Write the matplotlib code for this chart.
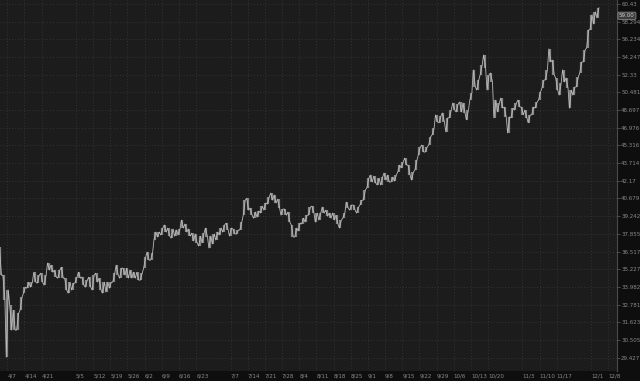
import numpy as np
import pandas as pd
import matplotlib
matplotlib.use("Agg")
import matplotlib.pyplot as plt
from matplotlib.ticker import FixedLocator, NullLocator

# daily ranges, 2025-04-03 .. 2025-12-03 (weekdays)
dates = pd.bdate_range("2025-04-03", "2025-12-03")

highs = [36.85, 34.80, 33.76, 32.73, 32.40, 32.20, 33.28, 33.96, 34.31, 34.31,
         35.01, 34.80, 34.94, 34.80, 35.67, 35.52, 35.16, 35.16, 35.37, 34.59,
         34.31, 34.24, 34.66, 35.01, 34.66, 34.45, 34.66, 34.80, 34.94, 34.59,
         34.31, 34.31, 34.31, 34.94, 35.52, 35.30, 35.30, 35.30, 35.16, 35.01,
         35.01, 34.94, 36.10, 36.47, 36.40, 37.99, 37.99, 38.30, 38.54, 38.30,
         38.23, 38.15, 38.23, 38.93, 38.62, 38.23, 37.91, 37.84, 37.68, 37.91,
         38.30, 37.68, 37.84, 37.99, 38.30, 38.54, 38.69, 38.30, 38.23, 38.15,
         38.77, 40.54, 40.70, 39.89, 39.57, 39.65, 40.05, 40.30, 40.80, 41.13,
         40.97, 40.62, 39.81, 39.81, 39.57, 38.54, 38.30, 38.69, 39.08, 39.32,
         39.97, 40.05, 39.49, 39.49, 39.97, 39.73, 39.49, 39.49, 39.32, 38.93,
         39.49, 40.38, 40.14, 40.14, 39.97, 40.54, 41.39, 42.40, 42.66, 42.57,
         42.40, 42.49, 42.84, 42.66, 42.49, 42.66, 43.54, 43.80, 44.16, 43.54,
         42.93, 43.98, 45.17, 45.35, 45.17, 46.11, 46.95, 48.22, 48.12, 48.41,
         47.93, 48.70, 49.40, 49.30, 49.50, 49.40, 48.70, 50.41, 52.84, 51.77,
         53.37, 54.47, 52.30, 52.51, 49.70, 49.40, 49.90, 48.99, 48.03, 48.89,
         49.40, 49.70, 48.99, 48.70, 48.22, 48.99, 49.50, 50.51, 51.77, 52.84,
         55.15, 53.92, 51.98, 51.45, 52.84, 51.98, 50.72, 51.04, 52.08, 53.70,
         55.04, 57.33, 59.11, 59.47, 59.96]

lows = [34.80, 33.08, 29.45, 31.12, 31.12, 31.12, 32.40, 33.55, 33.89, 33.96,
        34.31, 34.24, 34.31, 34.10, 35.16, 35.01, 34.66, 34.59, 34.59, 33.76,
        33.55, 33.76, 34.24, 34.59, 34.10, 33.96, 33.96, 33.76, 34.31, 33.76,
        33.55, 33.62, 33.89, 34.31, 34.80, 34.59, 34.80, 34.59, 34.59, 34.59,
        34.45, 34.45, 35.30, 35.88, 35.88, 37.38, 37.61, 37.76, 37.99, 37.68,
        37.53, 37.68, 37.76, 38.30, 37.99, 37.68, 37.31, 37.16, 36.93, 37.16,
        37.61, 36.78, 37.08, 37.38, 37.76, 37.99, 38.15, 37.68, 37.84, 37.84,
        38.15, 39.32, 39.73, 39.32, 39.08, 39.16, 39.49, 39.73, 40.22, 40.54,
        40.30, 39.89, 39.32, 39.32, 38.77, 37.61, 37.61, 38.07, 38.62, 38.77,
        39.32, 39.49, 38.77, 38.93, 39.49, 39.24, 39.08, 38.93, 38.62, 38.30,
        39.08, 39.89, 39.73, 39.73, 39.49, 40.14, 40.54, 41.56, 42.06, 41.98,
        41.81, 41.81, 42.23, 42.06, 42.06, 42.14, 42.93, 43.28, 43.54, 42.66,
        42.23, 43.10, 44.44, 44.71, 44.71, 45.35, 46.29, 47.54, 47.45, 47.54,
        46.58, 47.93, 48.70, 48.51, 48.51, 48.41, 47.74, 49.70, 51.04, 50.72,
        52.30, 53.06, 50.72, 51.56, 47.93, 48.51, 48.89, 48.03, 46.48, 47.93,
        48.70, 48.99, 48.22, 47.93, 47.45, 48.22, 48.89, 49.70, 50.93, 51.77,
        53.70, 52.30, 50.72, 50.20, 51.56, 50.93, 48.89, 50.20, 51.04, 52.51,
        53.70, 55.26, 57.33, 58.02, 58.74]

last_price = 59.00

price_labels = ["60.43", "58.294", "56.234", "54.247", "52.33", "50.481", "48.697",
                "46.976", "45.316", "43.714", "42.17", "40.679", "39.242", "37.855",
                "36.517", "35.227", "33.982", "32.781", "31.623", "30.505", "29.427"]

date_labels = ["4/7", "4/14", "4/21", "5/5", "5/12", "5/19", "5/26", "6/2", "6/9",
               "6/16", "6/23", "7/7", "7/14", "7/21", "7/28", "8/4", "8/11", "8/18",
               "8/25", "9/1", "9/8", "9/15", "9/22", "9/29", "10/6", "10/13", "10/20",
               "11/3", "11/10", "11/17", "12/1", "12/8"]

BG = "#1c1c1c"
STRIP = "#0e0e0e"
GRID = "#3a3a3a"
TXT = "#8a8a8a"

axis_days = pd.bdate_range("2025-04-03", "2025-12-12")
idx = {d.strftime("%-m/%-d"): i for i, d in enumerate(axis_days)}
xt = [idx[l] for l in date_labels]

x = np.arange(len(dates))
hi = np.array(highs)
lo = np.array(lows)

fig = plt.figure(figsize=(6.4, 3.81), dpi=100, facecolor=STRIP)
ax = fig.add_axes([0, 0.026, 0.964, 0.974], facecolor=BG)
ax.set_yscale("log")

# zigzag through each day's range so the trace looks like dense bars
zx, zy = [], []
for i in range(len(x)):
    mid_next = (hi[i + 1] + lo[i + 1]) / 2 if i + 1 < len(x) else hi[i]
    mid = (hi[i] + lo[i]) / 2
    zx += [x[i] - 0.3, x[i] + 0.3]
    if mid_next >= mid:
        zy += [lo[i], hi[i]]
    else:
        zy += [hi[i], lo[i]]

ax.vlines(x, lo, hi, color="#858585", lw=1.6, zorder=3)
ax.plot(zx, zy, color="#b9b9b9", lw=0.6, zorder=4)

ax.set_xlim(-0.13, 179.55)
ax.set_ylim(28.63, 60.92)

yt = [float(s) for s in price_labels]
ax.yaxis.set_major_locator(FixedLocator(yt))
ax.yaxis.set_minor_locator(NullLocator())
ax.set_yticklabels(price_labels)
ax.yaxis.tick_right()
ax.tick_params(axis="y", colors="#555555", labelsize=4, length=2, width=0.6, pad=1,
               labelcolor=TXT)

ax.set_xticks(xt)
ax.set_xticklabels(date_labels)
for t in ax.get_xticklabels():
    t.set_ha("left")
ax.tick_params(axis="x", labelcolor=TXT, labelsize=4, length=0, pad=1.5)

ax.grid(True, which="major", color=GRID, lw=0.6, ls=(0, (1, 2.5)))
for s in ["top", "left", "bottom"]:
    ax.spines[s].set_visible(False)
ax.spines["right"].set_color("#4a4a4a")
ax.spines["right"].set_linewidth(0.8)

# last price tag on the price axis
ax.annotate(f"{last_price:.2f}", xy=(1.0, last_price), xycoords=("axes fraction", "data"),
            xytext=(1.5, 0), textcoords="offset points", ha="left", va="center",
            fontsize=4, color="#d0d0d0",
            bbox=dict(boxstyle="round,pad=0.2", fc="#3c3c3c", ec="#9a9a9a", lw=0.5))

fig.savefig("out.png", dpi=100, facecolor=STRIP)
